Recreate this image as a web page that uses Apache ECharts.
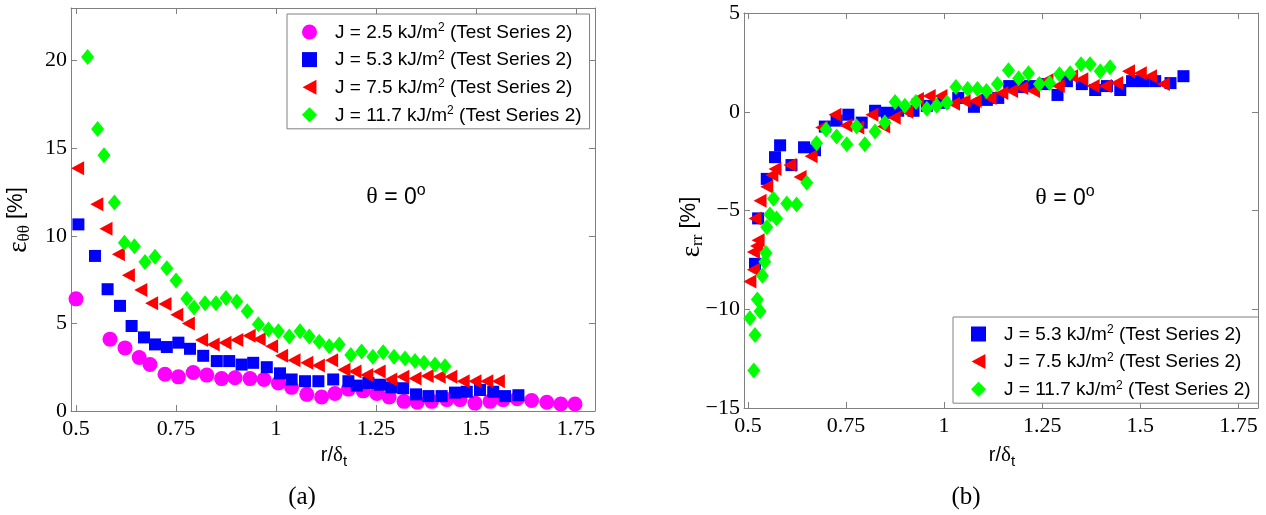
<!DOCTYPE html>
<html>
<head>
<meta charset="utf-8">
<script src="https://cdn.jsdelivr.net/npm/echarts@6/dist/echarts.min.js"></script>
<style>
  html, body { margin: 0; padding: 0; background: #fff; }
  #chart { width: 1266px; height: 515px; }
</style>
</head>
<body>
<div id="chart"></div>
<script>
// ---------- tick labels ----------
const xTicks = [0.5, 0.75, 1, 1.25, 1.5, 1.75];
const yTicksA = [0, 5, 10, 15, 20];
const yTicksB = [-15, -10, -5, 0, 5];

// ---------- legend names ----------
const names = [
  'J = 2.5 kJ/m² (Test Series 2)',
  'J = 5.3 kJ/m² (Test Series 2)',
  'J = 7.5 kJ/m² (Test Series 2)',
  'J = 11.7 kJ/m² (Test Series 2)'
];

// ---------- panel (a): eps_theta_theta ----------
const aMagX = [0.500,0.585,0.6225,0.658,0.685,0.7225,0.756,0.793,0.827,0.864,0.8975,0.935,0.970,1.006,1.039,1.077,1.114,1.1475,1.181,1.218,1.252,1.283,1.320,1.353,1.389,1.427,1.460,1.4975,1.535,1.568,1.603,1.639,1.677,1.712,1.7475];
const aMagY = [6.4,4.1,3.6,3.05,2.65,2.1,1.95,2.2,2.05,1.85,1.9,1.85,1.8,1.6,1.35,0.95,0.8,1.0,1.25,1.15,1.0,0.8,0.55,0.5,0.55,0.65,0.65,0.45,0.55,0.65,0.7,0.6,0.5,0.4,0.4];

const aBluX = [0.506,0.5475,0.579,0.610,0.639,0.670,0.6975,0.727,0.756,0.785,0.818,0.852,0.883,0.914,0.943,0.977,1.010,1.039,1.0725,1.106,1.143,1.181,1.202,1.231,1.260,1.289,1.318,1.350,1.381,1.414,1.4475,1.477,1.510,1.543,1.5725,1.606];
const aBluY = [10.65,8.85,6.95,6.0,4.85,4.2,3.8,3.65,3.9,3.55,3.15,2.85,2.85,2.65,2.75,2.5,2.15,1.8,1.7,1.7,1.8,1.7,1.45,1.6,1.5,1.35,1.3,0.95,0.85,0.85,1.05,1.1,1.2,1.1,0.85,0.9];

const aRedX = [0.504,0.552,0.575,0.606,0.631,0.662,0.689,0.7225,0.752,0.781,0.814,0.843,0.8725,0.902,0.933,0.958,0.989,1.014,1.045,1.077,1.106,1.139,1.170,1.1975,1.227,1.258,1.287,1.317,1.3475,1.378,1.408,1.437,1.468,1.4975,1.527,1.556];
const aRedY = [13.85,11.8,10.4,8.95,7.75,6.9,6.15,6.1,5.5,5.0,4.05,3.8,3.9,4.05,4.3,4.1,3.7,3.15,2.9,2.75,2.6,2.9,2.35,2.25,2.05,2.25,1.8,1.95,1.85,2.0,1.95,1.95,1.7,1.7,1.7,1.7];

const aGrnX = [0.529,0.554,0.570,0.596,0.621,0.646,0.6725,0.6975,0.727,0.750,0.777,0.795,0.8225,0.850,0.875,0.902,0.928,0.956,0.981,1.006,1.033,1.060,1.083,1.108,1.133,1.158,1.187,1.214,1.242,1.268,1.295,1.3225,1.3475,1.370,1.3975,1.4225];
const aGrnY = [20.2,16.1,14.6,11.9,9.6,9.4,8.5,8.8,8.15,7.45,6.4,5.9,6.15,6.15,6.45,6.25,5.7,4.95,4.65,4.55,4.25,4.55,4.25,3.95,3.7,3.8,3.2,3.4,3.1,3.35,3.1,3.0,2.85,2.75,2.65,2.55];

// ---------- panel (b): eps_rr ----------
const bBluX = [0.518,0.526,0.548,0.569,0.582,0.611,0.643,0.671,0.696,0.726,0.756,0.790,0.824,0.854,0.883,0.922,0.956,0.998,1.036,1.076,1.109,1.138,1.166,1.192,1.219,1.253,1.289,1.313,1.351,1.385,1.415,1.449,1.479,1.508,1.538,1.577,1.610];
const bBluY = [-7.7,-5.4,-3.4,-2.3,-1.7,-2.7,-1.8,-1.95,-0.75,-0.45,-0.15,-0.55,0.05,-0.05,0.05,0.05,0.3,0.45,0.7,0.25,0.6,0.7,1.3,1.25,1.3,1.4,0.85,1.55,1.4,1.1,1.3,1.1,1.55,1.55,1.55,1.45,1.8];

const bRedX = [0.505,0.514,0.514,0.522,0.526,0.518,0.531,0.548,0.561,0.569,0.607,0.633,0.661,0.688,0.722,0.750,0.780,0.816,0.846,0.873,0.905,0.932,0.962,0.992,1.024,1.051,1.079,1.117,1.147,1.172,1.198,1.228,1.262,1.291,1.325,1.351,1.380,1.411,1.440,1.470,1.500,1.526,1.559];
const bRedY = [-8.6,-8.0,-7.1,-6.8,-6.5,-5.4,-4.5,-3.8,-3.2,-2.9,-2.7,-3.3,-2.25,-0.8,-0.15,-0.7,-0.8,-0.15,-0.75,-0.3,0.0,0.65,0.8,0.8,0.4,0.55,0.55,0.7,0.95,1.05,1.2,1.05,1.6,1.3,1.8,1.65,1.3,1.3,1.45,2.05,1.95,1.8,1.4];

const bGrnX = [0.505,0.515,0.518,0.524,0.531,0.537,0.543,0.546,0.548,0.556,0.565,0.573,0.599,0.624,0.650,0.675,0.699,0.726,0.752,0.777,0.798,0.824,0.849,0.875,0.900,0.928,0.956,0.981,1.007,1.030,1.060,1.085,1.108,1.136,1.164,1.190,1.215,1.243,1.269,1.294,1.321,1.349,1.372,1.398,1.423];
const bGrnY = [-10.45,-13.1,-11.3,-9.5,-10.1,-8.3,-7.6,-7.15,-5.85,-5.2,-4.4,-5.4,-4.65,-4.7,-3.6,-1.6,-0.9,-1.25,-1.65,-0.75,-1.65,-1.0,-0.55,0.5,0.3,0.5,0.15,0.3,0.45,1.25,1.15,1.15,1.05,1.4,2.1,1.7,1.95,1.4,1.45,1.9,1.95,2.4,2.4,2.05,2.25];

// ---------- styling ----------
const AXC = '#808080';
const SERIF = "'Liberation Serif','Times New Roman',serif";
const SANS = "'Liberation Sans',Arial,sans-serif";
const zip = (xs, ys) => xs.map((x, i) => [x, ys[i]]);
const minus = v => String(v).replace('-', '\u2212');

const marks = {
  mag: { symbol: 'circle', symbolSize: 15, color: '#FF00FF', rotate: 0, icon: 'circle' },
  blu: { symbol: 'rect', symbolSize: 12, color: '#0000FF', rotate: 0, icon: 'rect' },
  red: { symbol: 'triangle', symbolSize: [14, 13], color: '#FF0000', rotate: 90, icon: 'path://M0,7 L13,0 L13,14 Z' },
  grn: { symbol: 'diamond', symbolSize: [13, 16], color: '#00FF00', rotate: 0, icon: 'diamond' }
};
const keys = ['mag', 'blu', 'red', 'grn'];

function axis(kind, gridIndex, min, max, ticks, position, showLabel) {
  return {
    type: 'value', gridIndex, min, max, position,
    axisLine: { show: true, onZero: false, lineStyle: { color: AXC, width: 1 } },
    axisTick: { show: true, inside: true, length: 6, customValues: ticks, lineStyle: { color: AXC, width: 1 } },
    axisLabel: {
      show: showLabel, customValues: ticks, color: '#000',
      fontFamily: SERIF, fontSize: 22,
      margin: kind === 'x' ? 7 : 4,
      formatter: v => minus(v)
    },
    splitLine: { show: false }
  };
}

function scatter(name, key, xs, ys, xi, yi) {
  const m = marks[key];
  return {
    type: 'scatter', name, xAxisIndex: xi, yAxisIndex: yi,
    data: zip(xs, ys), symbol: m.symbol, symbolSize: m.symbolSize,
    symbolRotate: m.rotate, clip: false,
    itemStyle: { color: m.color, opacity: 1 },
    emphasis: { disabled: true }
  };
}

const legendRich = {
  f: { fontFamily: SANS, fontSize: 19, color: '#000', lineHeight: 20, verticalAlign: 'bottom', padding: [0, 0, 0, 13] },
  t: { fontFamily: SANS, fontSize: 19, color: '#000', lineHeight: 20, verticalAlign: 'bottom' },
  s: { fontFamily: SANS, fontSize: 12, color: '#000', lineHeight: 8, verticalAlign: 'top' }
};
const legendFmt = name => {
  const p = name.split('²');
  return '{f|' + p[0] + '}{s|2}{t|' + p[1] + '}';
};
function legend(left, top, idx, padding) {
  return {
    left, top, orient: 'vertical', selectedMode: false,
    data: idx.map(i => ({ name: names[i], icon: marks[keys[i]].icon })),
    padding, itemWidth: 15, itemHeight: 15, itemGap: 7.6,
    borderColor: AXC, borderWidth: 1, backgroundColor: '#fff',
    formatter: legendFmt,
    textStyle: { fontFamily: SANS, fontSize: 19, color: '#000', rich: legendRich }
  };
}

const thetaRich = {
  g: { fontFamily: SERIF, fontSize: 24, fill: '#000', lineHeight: 26, verticalAlign: 'bottom' },
  n: { fontFamily: SANS, fontSize: 23, fill: '#000', lineHeight: 26, verticalAlign: 'bottom' },
  o: { fontFamily: SANS, fontSize: 16, fill: '#000', lineHeight: 12, verticalAlign: 'top' }
};
const titleRich = {
  e: { fontFamily: SERIF, fontSize: 27, fill: '#000', lineHeight: 28, verticalAlign: 'top' },
  s: { fontFamily: SERIF, fontSize: 17, fill: '#000', lineHeight: 13, verticalAlign: 'bottom' },
  n: { fontFamily: SANS, fontSize: 22, fill: '#000', lineHeight: 28, verticalAlign: 'top' }
};
const xTitleRich = {
  n: { fontFamily: SANS, fontSize: 20, fill: '#000', lineHeight: 24, verticalAlign: 'top' },
  d: { fontFamily: SERIF, fontSize: 21, fill: '#000', lineHeight: 24, verticalAlign: 'top' },
  s: { fontFamily: SANS, fontSize: 15, fill: '#000', lineHeight: 12, verticalAlign: 'bottom' }
};

const option = {
  animation: false,
  backgroundColor: '#fff',
  grid: [
    { left: 71, top: 8, width: 524, height: 403, show: false },
    { left: 744, top: 13, width: 514, height: 395, show: false }
  ],
  xAxis: [
    axis('x', 0, 0.4875, 1.7975, xTicks, 'bottom', true),
    axis('x', 0, 0.4875, 1.7975, xTicks, 'top', false),
    axis('x', 1, 0.49, 1.8, xTicks, 'bottom', true),
    axis('x', 1, 0.49, 1.8, xTicks, 'top', false)
  ],
  yAxis: [
    axis('y', 0, 0, 23, yTicksA, 'left', true),
    axis('y', 0, 0, 23, yTicksA, 'right', false),
    axis('y', 1, -15, 5, yTicksB, 'left', true),
    axis('y', 1, -15, 5, yTicksB, 'right', false)
  ],
  legend: [
    legend(287, 14, [0, 1, 2, 3], [8, 8, 4, 15]),
    legend(953, 317, [1, 2, 3], [7, 8, 4, 18])
  ],
  series: [
    scatter(names[0], 'mag', aMagX, aMagY, 0, 0),
    scatter(names[1], 'blu', aBluX, aBluY, 0, 0),
    scatter(names[2], 'red', aRedX, aRedY, 0, 0),
    scatter(names[3], 'grn', aGrnX, aGrnY, 0, 0),
    scatter(names[1], 'blu', bBluX, bBluY, 2, 2),
    scatter(names[2], 'red', bRedX, bRedY, 2, 2),
    scatter(names[3], 'grn', bGrnX, bGrnY, 2, 2)
  ],
  graphic: [
    { type: 'text', x: 396, y: 196, style: { text: '{g|θ}{n| = 0}{o|o}', rich: thetaRich, align: 'center', verticalAlign: 'middle' } },
    { type: 'text', x: 1065, y: 197, style: { text: '{g|θ}{n| = 0}{o|o}', rich: thetaRich, align: 'center', verticalAlign: 'middle' } },
    { type: 'text', x: 19, y: 220, rotation: Math.PI / 2, style: { text: '{e|ε}{s|θθ}{n| [%]}', rich: titleRich, align: 'center', verticalAlign: 'middle' } },
    { type: 'text', x: 692, y: 227, rotation: Math.PI / 2, style: { text: '{e|ε}{s|rr}{n| [%]}', rich: titleRich, align: 'center', verticalAlign: 'middle' } },
    { type: 'text', x: 334, y: 457, style: { text: '{n|r/}{d|δ}{s|t}', rich: xTitleRich, align: 'center', verticalAlign: 'middle' } },
    { type: 'text', x: 1002, y: 457, style: { text: '{n|r/}{d|δ}{s|t}', rich: xTitleRich, align: 'center', verticalAlign: 'middle' } },
    { type: 'text', x: 302, y: 497, style: { text: '(a)', font: "25px 'Liberation Serif','Times New Roman',serif", fill: '#000', align: 'center', verticalAlign: 'middle' } },
    { type: 'text', x: 966, y: 497, style: { text: '(b)', font: "25px 'Liberation Serif','Times New Roman',serif", fill: '#000', align: 'center', verticalAlign: 'middle' } }
  ]
};

const chart = echarts.init(document.getElementById('chart'), null, { renderer: 'canvas' });
chart.setOption(option);
</script>
</body>
</html>
